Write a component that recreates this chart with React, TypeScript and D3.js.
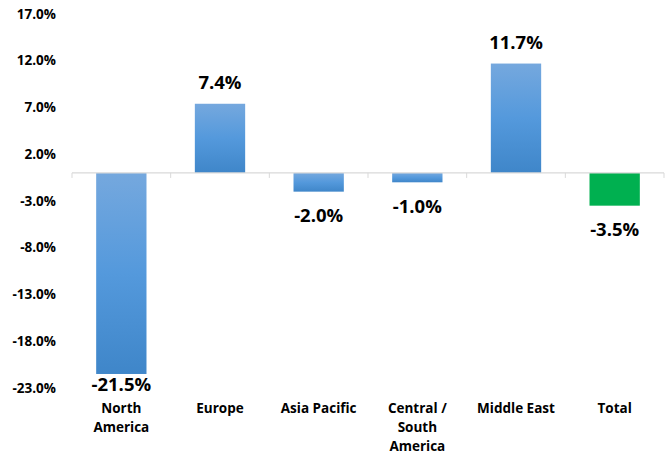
import React from 'react'
import * as d3 from 'd3'

// chart data
const categories = ['North America', 'Europe', 'Asia Pacific', 'Central / South America', 'Middle East', 'Total']
const categoryLines = [['North', 'America'], ['Europe'], ['Asia Pacific'], ['Central /', 'South', 'America'], ['Middle East'], ['Total']]
const values = [-21.5, 7.4, -2.0, -1.0, 11.7, -3.5]
const isTotal = [false, false, false, false, false, true]
const yTicks = [17, 12, 7, 2, -3, -8, -13, -18, -23]

const W = 666
const H = 455
const font = '"Open Sans", Lato, sans-serif'

export default function App() {
    const x = d3.scaleBand<string>()
        .domain(categories)
        .range([72, 664])
        .paddingInner(0.49)
        .paddingOuter(0.245)

    const y = d3.scaleLinear().domain([-23, 17]).range([388, 14])
    const fmt = (v: number) => v.toFixed(1) + '%'
    const y0 = y(0)

    return (
        <svg width={W} height={H} style={{position: 'absolute', left: 0, top: 0, background: '#fff'}}>
            <defs>
                <linearGradient id="barGrad" x1="0" y1="0" x2="0" y2="1">
                    <stop offset="0%" stopColor="#75a8de" />
                    <stop offset="50%" stopColor="#5499dc" />
                    <stop offset="100%" stopColor="#3f86c9" />
                </linearGradient>
            </defs>

            {/* y axis labels */}
            {yTicks.map(t => (
                <text key={t} x={56} y={y(t)} dy="0.35em" textAnchor="end"
                      fontFamily={font} fontWeight="bold" fontSize={13.5} fill="#000">
                    {fmt(t)}
                </text>
            ))}

            {/* bars */}
            {categories.map((c, i) => {
                const v = values[i]
                return (
                    <rect key={c} x={x(c)} width={x.bandwidth()}
                          y={Math.min(y(v), y0)} height={Math.abs(y(v) - y0)}
                          fill={isTotal[i] ? '#00b050' : 'url(#barGrad)'} />
                )
            })}

            {/* zero axis with category ticks */}
            <line x1={72} x2={664} y1={y0} y2={y0} stroke="#d9d9d9" strokeWidth={1.2} />
            {d3.range(categories.length + 1).map(i => {
                const tx = 72 + i * x.step()
                return <line key={i} x1={tx} x2={tx} y1={y0} y2={y0 + 5} stroke="#d9d9d9" strokeWidth={1} />
            })}

            {/* data labels, kept clear of the category labels */}
            {categories.map((c, i) => {
                const v = values[i]
                const cx = (x(c) as number) + x.bandwidth() / 2
                const ly = v >= 0 ? y(v) - 21 : Math.min(y(v) + 24, 385)
                return (
                    <text key={c} x={cx} y={ly} dy="0.35em" textAnchor="middle"
                          fontFamily={font} fontWeight="bold" fontSize={18.5} fill="#000">
                        {fmt(v)}
                    </text>
                )
            })}

            {/* category labels */}
            {categories.map((c, i) => {
                const cx = (x(c) as number) + x.bandwidth() / 2
                return (
                    <text key={c} x={cx} y={408} textAnchor="middle"
                          fontFamily={font} fontWeight="bold" fontSize={13.5} fill="#000">
                        {categoryLines[i].map((l, j) => (
                            <tspan key={j} x={cx} y={408 + j * 19} dy="0.35em">{l}</tspan>
                        ))}
                    </text>
                )
            })}
        </svg>
    )
}
